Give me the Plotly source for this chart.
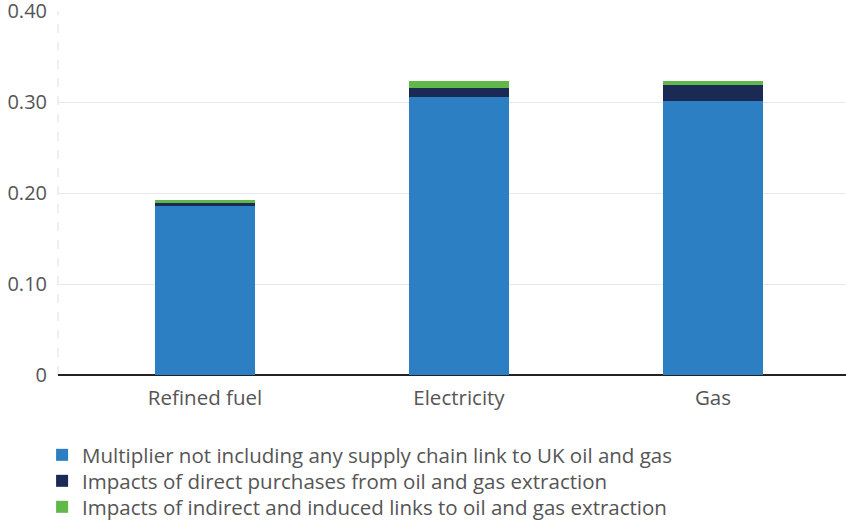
import plotly.graph_objects as go

categories = ["Refined fuel", "Electricity", "Gas"]
base_values = [0.186, 0.306, 0.301]
direct_values = [0.004, 0.009, 0.018]
indirect_values = [0.002, 0.008, 0.004]
series_names = [
    "Multiplier not including any supply chain link to UK oil and gas",
    "Impacts of direct purchases from oil and gas extraction",
    "Impacts of indirect and induced links to oil and gas extraction",
]
colors = ["#2b7fc2", "#1b2a55", "#5fb848"]
tick_vals = [0, 0.1, 0.2, 0.3, 0.4]
tick_text = ["0", "0.10", "0.20", "0.30", "0.40"]

legend_ids = ["legend", "legend2", "legend3"]
legend_rows_y = [-0.2198, -0.2912, -0.3626]

fig = go.Figure()
for name, vals, col, lg in zip(series_names, [base_values, direct_values, indirect_values], colors, legend_ids):
    fig.add_trace(go.Bar(x=categories, y=vals, name=name, marker=dict(color=col, line=dict(width=0)),
                         width=0.394, legend=lg))

font_family = "Open Sans, Noto Sans, sans-serif"
fig.update_layout(
    width=846, height=522,
    barmode="stack",
    paper_bgcolor="white", plot_bgcolor="white",
    margin=dict(l=58, r=0, t=11, b=147, autoexpand=False),
    font=dict(family=font_family, color="#555555", size=20),
    xaxis=dict(range=[-0.579, 2.524], showgrid=False, tickfont=dict(size=20.5, color="#555555"),
               ticks="", showline=False, fixedrange=True, ticklabelstandoff=8),
    yaxis=dict(range=[0, 0.4002], tickvals=tick_vals, ticktext=tick_text, showgrid=True,
               gridcolor="#e8e8e8", gridwidth=1, zeroline=True, zerolinecolor="#222222",
               zerolinewidth=2, showline=False, ticks="", tickfont=dict(size=20, color="#555555"),
               ticklabelstandoff=10, ticklabeloverflow="allow", fixedrange=True),
    showlegend=True,
)
for lg, ly in zip(legend_ids, legend_rows_y):
    fig.update_layout({lg: dict(orientation="v", x=-0.0202, xanchor="left", y=ly, yanchor="middle",
                                font=dict(size=20.5, color="#555555"), itemwidth=30,
                                bgcolor="rgba(0,0,0,0)")})
fig.add_shape(type="line", xref="paper", yref="y", x0=0, x1=0, y0=0, y1=0.40,
              line=dict(color="#e0e0e0", width=1, dash="dash"), layer="below")

fig.write_html("out.html", config={"displayModeBar": False},
               post_script="document.body.style.margin='0';")
